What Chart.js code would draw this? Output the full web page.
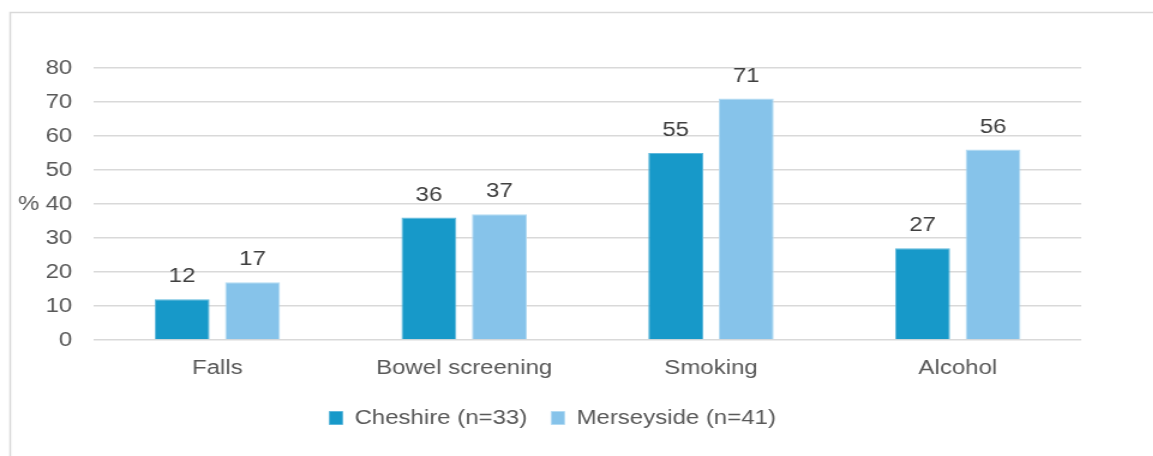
<!DOCTYPE html>
<html>
<head>
<meta charset="utf-8">
<script src="https://cdn.jsdelivr.net/npm/chart.js@4/dist/chart.umd.min.js"></script>
<style>
  html, body { margin: 0; padding: 0; background: #fff; overflow: hidden; }
  /* drawn narrow, then widened so the type comes out broad like the original export */
  #wrap { width: 961px; height: 456px; transform: scaleX(1.2); transform-origin: 0 0; }
</style>
</head>
<body>
<div id="wrap"><canvas id="chart"></canvas></div>
<script>
const categories = ['Falls', 'Bowel screening', 'Smoking', 'Alcohol'];
const cheshire = [12, 36, 55, 27];
const merseyside = [17, 37, 71, 56];
const seriesNames = ['Cheshire (n=33)', 'Merseyside (n=41)'];
const yTicks = [0, 10, 20, 30, 40, 50, 60, 70, 80];

const FONT = '"Liberation Sans", Arial, sans-serif';

// outer frame plus the value labels and the "%" beside the axis
const extras = {
  id: 'extras',
  beforeDraw(chart) {
    const ctx = chart.ctx;
    ctx.save();
    ctx.fillStyle = '#fff';
    ctx.fillRect(0, 0, chart.width, chart.height);
    ctx.strokeStyle = '#d9d9d9';
    ctx.lineWidth = 1.5;
    ctx.strokeRect(8.5, 12.5, chart.width + 20, chart.height + 20);
    ctx.restore();
  },
  afterDatasetsDraw(chart) {
    const ctx = chart.ctx;
    ctx.save();
    ctx.font = '20px ' + FONT;
    ctx.fillStyle = '#404040';
    ctx.textAlign = 'center';
    ctx.textBaseline = 'alphabetic';
    chart.data.datasets.forEach((ds, i) => {
      chart.getDatasetMeta(i).data.forEach((bar, j) => {
        ctx.fillText(String(ds.data[j]), bar.x, bar.y - 17);
      });
    });
    const y = chart.scales.y;
    ctx.fillStyle = '#595959';
    ctx.textAlign = 'left';
    ctx.textBaseline = 'middle';
    ctx.fillText('%', 15, y.getPixelForValue(40));
    ctx.restore();
  }
};

new Chart(document.getElementById('chart'), {
  type: 'bar',
  data: {
    labels: categories,
    datasets: [
      { label: seriesNames[0], data: cheshire, backgroundColor: '#1799c9', borderColor: '#5fb8dc', borderWidth: 1 },
      { label: seriesNames[1], data: merseyside, backgroundColor: '#86c3ea', borderColor: '#b3dbf3', borderWidth: 1 }
    ]
  },
  options: {
    responsive: true,
    maintainAspectRatio: false,
    animation: false,
    datasets: { bar: { categoryPercentage: 0.571, barPercentage: 0.78 } },
    layout: { padding: { left: 20, right: 60, top: 68, bottom: 18 } },
    plugins: {
      tooltip: { enabled: false },
      legend: {
        position: 'bottom',
        labels: {
          color: '#595959',
          font: { family: FONT, size: 20 },
          boxWidth: 11,
          boxHeight: 13,
          padding: 20
        }
      }
    },
    scales: {
      x: {
        grid: { display: false },
        border: { display: false },
        ticks: { color: '#595959', font: { family: FONT, size: 20 }, padding: 8 }
      },
      y: {
        min: 0,
        max: 80,
        afterBuildTicks(axis) { axis.ticks = yTicks.map(v => ({ value: v })); },
        grid: { color: '#d9d9d9', lineWidth: 1.5, drawTicks: false },
        border: { display: false },
        ticks: { color: '#595959', font: { family: FONT, size: 20 }, padding: 18 }
      }
    }
  },
  plugins: [extras]
});
</script>
</body>
</html>
